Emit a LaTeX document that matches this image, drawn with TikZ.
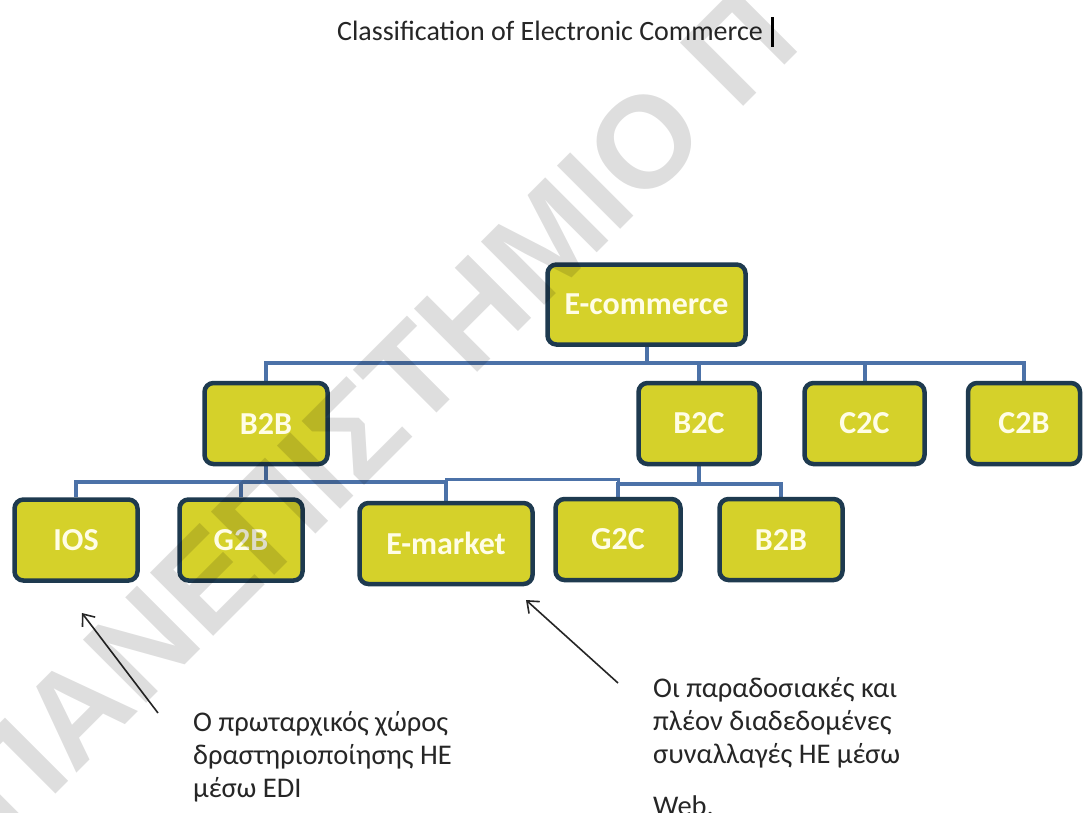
\documentclass[tikz,border=0pt]{standalone}
\usepackage{fontspec}
\setmainfont{Carlito}
\newfontfamily\markfont{Liberation Sans}
\usetikzlibrary{arrows.meta,backgrounds}
\definecolor{boxfill}{HTML}{D5D12A}
\definecolor{boxline}{HTML}{1E3A4F}
\definecolor{linkblue}{HTML}{4C72A8}
\definecolor{labeltext}{HTML}{FFFDE6}
\definecolor{notetext}{HTML}{262626}

\begin{document}
\begin{tikzpicture}[x=1pt,y=-1pt,
  cat/.style={draw=boxline, line width=4.5pt, fill=boxfill, rounded corners=9pt,
    minimum width=#1, minimum height=81pt, inner sep=0pt,
    font=\fontsize{32}{38}\selectfont\bfseries, text=labeltext},
  cat/.default=123pt,
  link/.style={draw=linkblue, line width=4pt},
  pointer/.style={draw=notetext, line width=1.6pt,
    -{Straight Barb[length=10pt,width=16pt,line width=1.6pt]}},
  note/.style={align=left, anchor=north west, inner sep=0pt,
    font=\fontsize{28.5}{33}\selectfont, text=notetext},
  heading/.style={anchor=base, inner sep=0pt, font=\fontsize{28}{33}\selectfont, text=notetext}
]
\useasboundingbox (0,0) rectangle (1083,812);
\clip (0,0) rectangle (1083,812);

% title and text cursor
\node[heading] (title) at (550,40) {Classification of Electronic Commerce};
\coordinate (caretTop) at (772,17);
\coordinate (caretBot) at (772,47);
\draw[black, line width=3pt] (caretTop) -- (caretBot);

% hierarchy
\node[cat=198pt, minimum height=80pt] (ecom) at (646.5,304.5) {E-commerce};

\node[cat] (b2b)  at (266,423.5)  {B2B};
\node[cat=121pt] (b2c)  at (699,423.5)  {B2C};
\node[cat=120pt] (c2c)  at (864.5,423.5) {C2C};
\node[cat=112pt] (c2b)  at (1024,423.5) {C2B};

\node[cat] (ios)  at (76,540)    {IOS};
\node[cat] (g2b)  at (241,540)   {G2B};
\node[cat=173pt] (emk)  at (446,543.5) {E-market};
\node[cat=125pt] (g2c)  at (618,539.5) {G2C};
\node[cat] (b2bw) at (781,539.5) {B2B};

\begin{scope}[on background layer]
  \fill[white] (0,0) rectangle (1083,812);
  \coordinate (rowA) at (0,363);
  \coordinate (rowB) at (0,482);
  \coordinate (rowC) at (0,484);
  \foreach \c in {b2b,b2c,c2c,c2b}
    \draw[link] (ecom.south) |- (rowA -| \c) -- (\c.north);
  \foreach \c in {ios,g2b,emk}
    \draw[link] (b2b.south) |- (rowB -| \c) -- (\c.north);
  \foreach \c in {g2c,b2bw}
    \draw[link] (b2c.south) |- (rowC -| \c) -- (\c.north);
  \draw[link, line width=3pt] (b2c.south) |- (rowC -| g2c) -- ++(0,-5) -| (emk.north);
\end{scope}

% notes with pointers
\node[note] (noteA) at (193,711) {Ο πρωταρχικός χώρος\\δραστηριοποίησης ΗΕ\\μέσω EDI};
\node[note] (noteB) at (653,677) {Οι παραδοσιακές και\\πλέον διαδεδομένες\\συναλλαγές ΗΕ μέσω\\[19pt]Web.};
\coordinate (ptrAtail) at (158,713);
\coordinate (ptrAhead) at (82,613);
\coordinate (ptrBtail) at (618,683);
\coordinate (ptrBhead) at (526,600);
\draw[pointer] (ptrAtail) -- (ptrAhead);
\draw[pointer] (ptrBtail) -- (ptrBhead);

% diagonal watermark
\node[anchor=base west, inner sep=0pt, rotate=45, text=black, text opacity=0.13,
  font=\markfont\bfseries\fontsize{130}{130}\selectfont] (mark) at (8,842) {ΠΑΝΕΠΙΣΤΗΜΙΟ Π};
\end{tikzpicture}
\end{document}
